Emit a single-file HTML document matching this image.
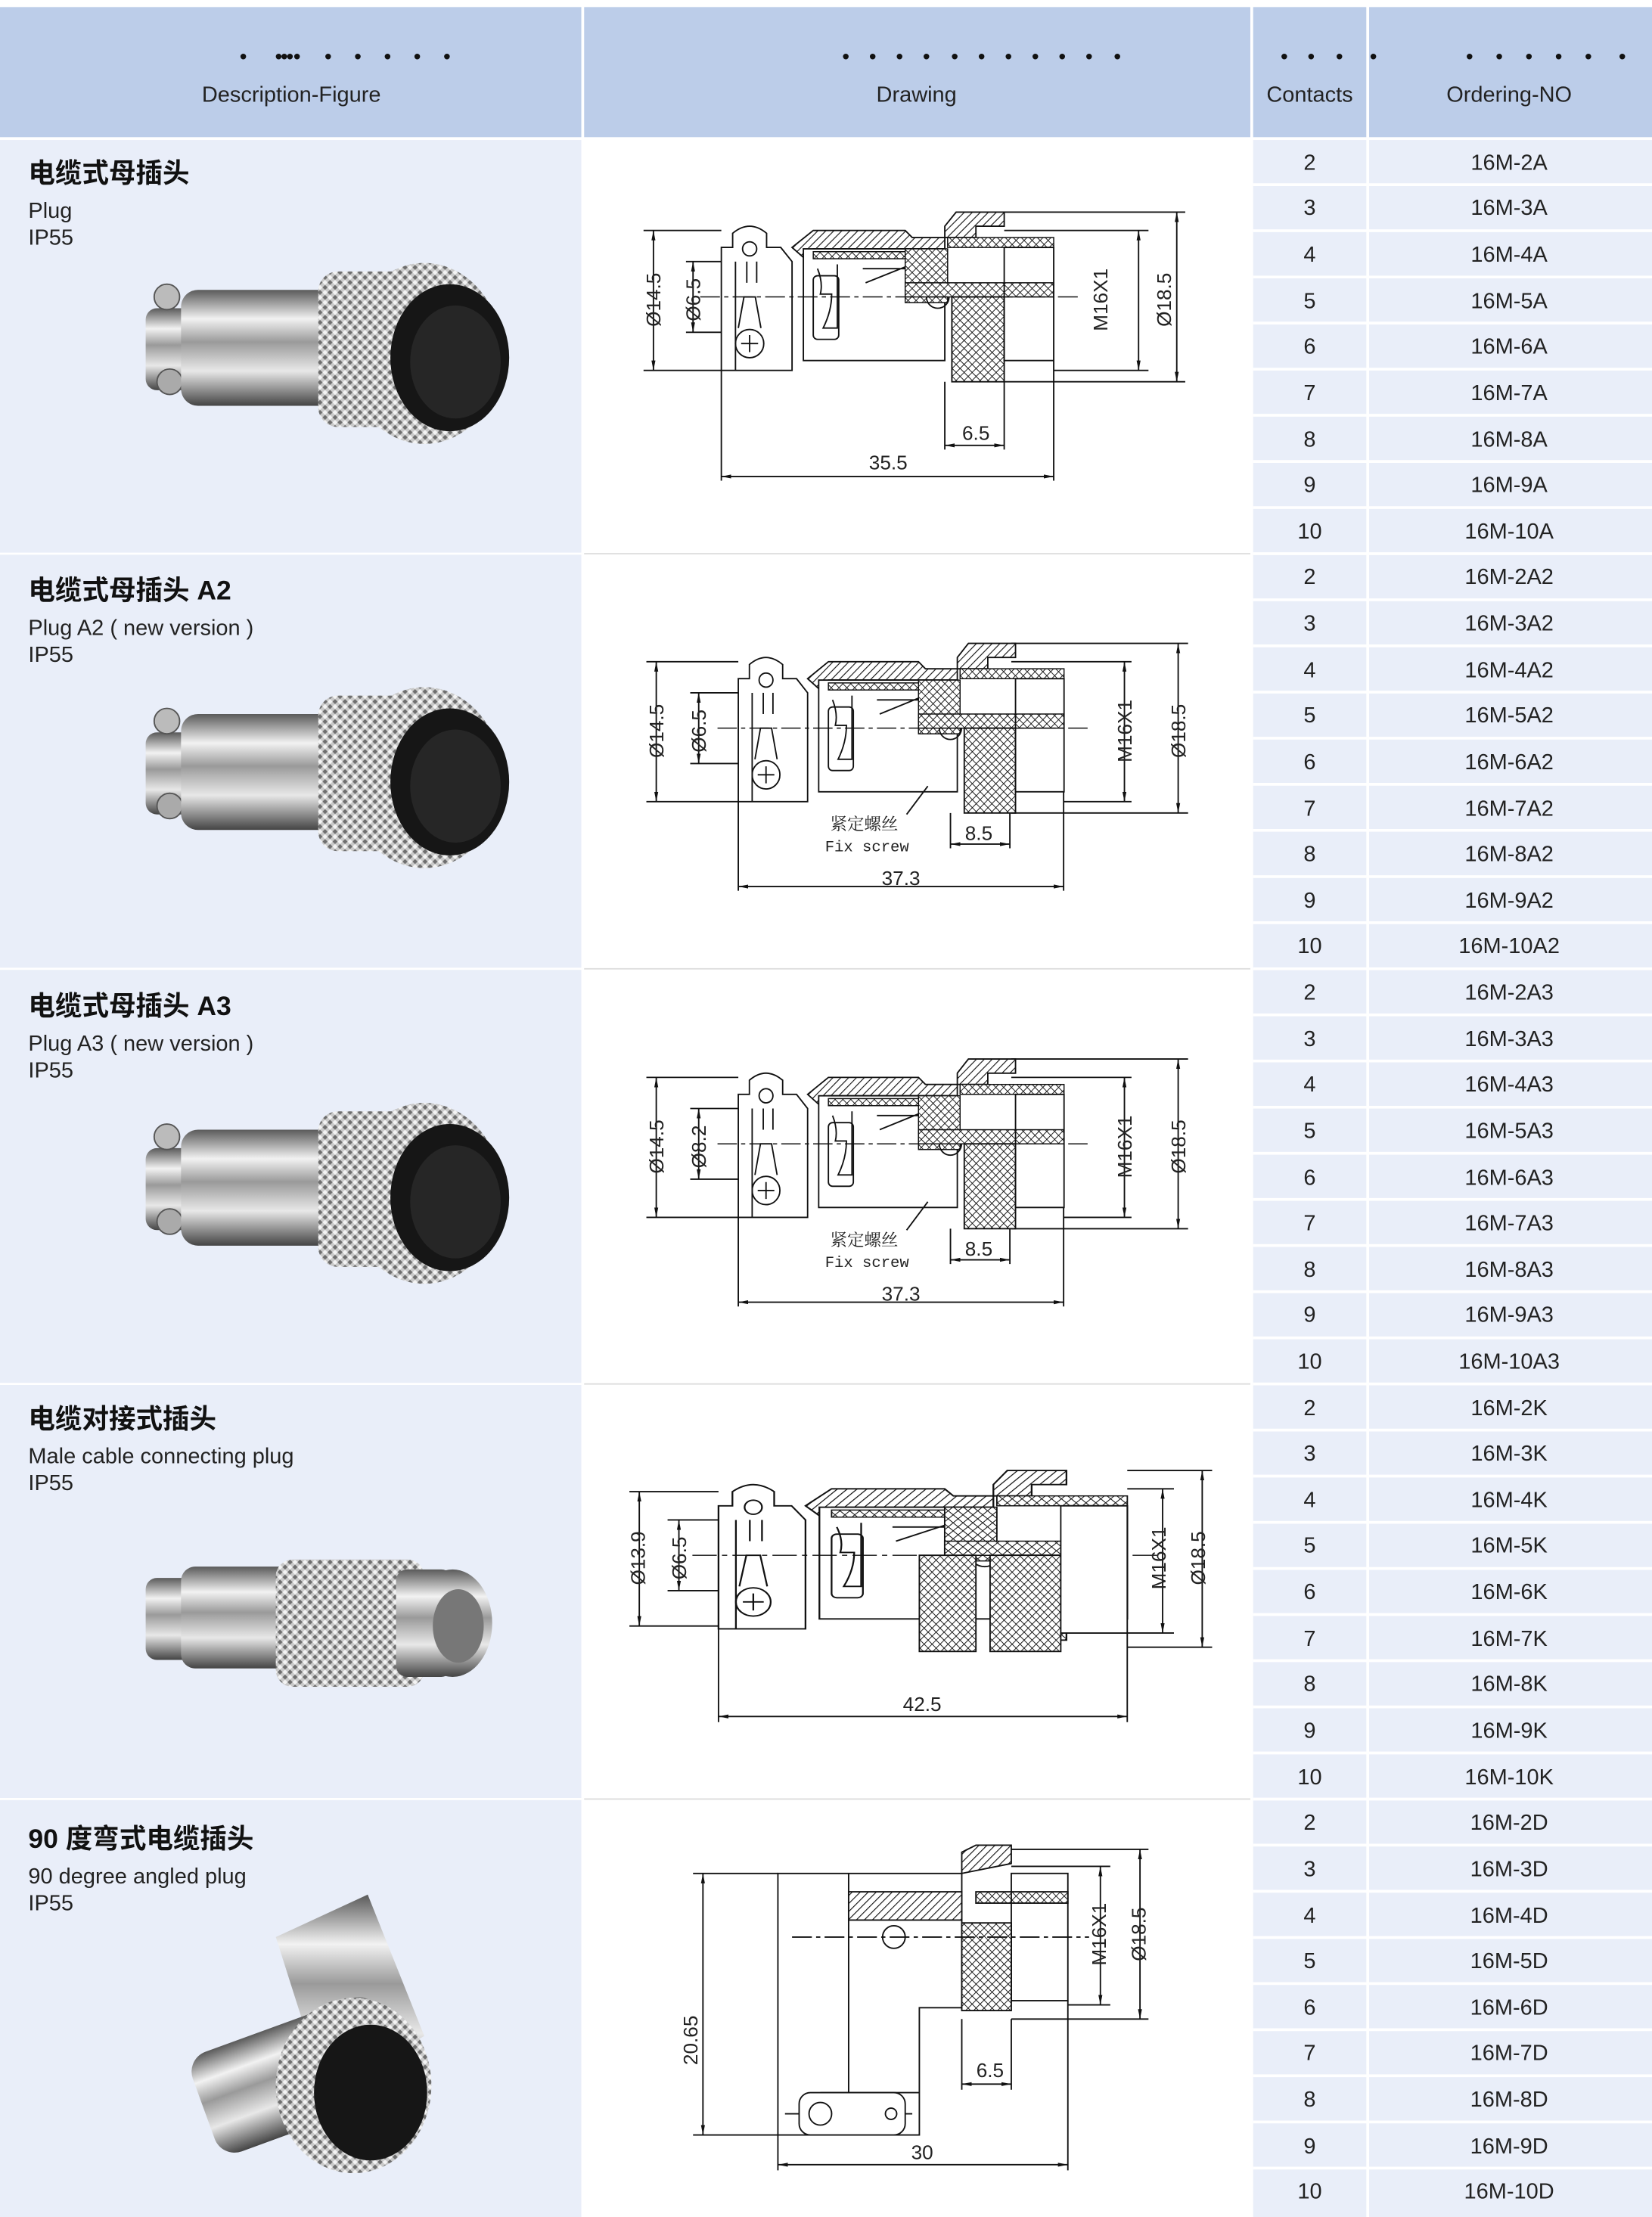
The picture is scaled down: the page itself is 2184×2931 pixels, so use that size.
<!DOCTYPE html>
<html><head><meta charset="utf-8"><style>
html,body{margin:0;padding:0;background:#fff}
svg{display:block}
text{font-family:"Liberation Sans","Noto Sans CJK SC",sans-serif}
.h{font-size:15.5px;fill:#222;text-anchor:middle}
.c{font-size:15.5px;fill:#222;text-anchor:middle}
.t{font-size:19px;font-weight:bold;fill:#111}
.d{font-size:15.5px;fill:#222}
.dim{font-size:14px;fill:#222;text-anchor:middle}
.ln{stroke:#111;stroke-width:1;fill:none}
.lw{stroke:#111;stroke-width:1;fill:#fff}
</style></head><body>
<svg width="2184" height="2931" viewBox="0 0 1168 1568" preserveAspectRatio="none" xmlns="http://www.w3.org/2000/svg">
<defs>
<pattern id="hat" width="4" height="4" patternUnits="userSpaceOnUse" patternTransform="rotate(45)"><rect width="4" height="4" fill="#fff"/><line x1="0" y1="0" x2="0" y2="4" stroke="#111" stroke-width="1.2"/></pattern>
<pattern id="knl" width="4" height="4" patternUnits="userSpaceOnUse" patternTransform="rotate(45)"><rect width="4" height="4" fill="#fff"/><line x1="0" y1="0" x2="0" y2="4" stroke="#111" stroke-width="1"/><line x1="0" y1="0" x2="4" y2="0" stroke="#111" stroke-width="1"/></pattern>
<pattern id="pk" width="5" height="5" patternUnits="userSpaceOnUse" patternTransform="rotate(45)"><rect width="5" height="5" fill="#c9c9c9"/><rect width="2.5" height="2.5" fill="#6e6e6e"/><rect x="2.5" y="2.5" width="2.5" height="2.5" fill="#f4f4f4"/></pattern>
<linearGradient id="sil" x1="0" y1="0" x2="0" y2="1"><stop offset="0" stop-color="#5a5a5a"/><stop offset=".25" stop-color="#f2f2f2"/><stop offset=".45" stop-color="#9a9a9a"/><stop offset=".7" stop-color="#e8e8e8"/><stop offset="1" stop-color="#444"/></linearGradient>
<marker id="ar" viewBox="0 0 10 10" refX="10" refY="5" markerWidth="7" markerHeight="7" orient="auto-start-reverse"><path d="M0,3 L10,5 L0,7z" fill="#111"/></marker>

<g id="plugA">
  <path class="lw" d="M510,175 L518,175 L518,165 Q530,155 542,165 L542,175 L552,175 L560,185 L560,262 L510,262z"/>
  <circle class="ln" cx="530" cy="176" r="5"/>
  <line class="ln" x1="520" y1="185" x2="520" y2="262"/><line class="ln" x1="528" y1="185" x2="528" y2="200"/><line class="ln" x1="535" y1="185" x2="535" y2="200"/>
  <circle class="ln" cx="530" cy="243" r="10"/><path class="ln" d="M524,243 h12 M530,237 v12"/>
  <path class="ln" d="M522,232 L526,210 L534,210 L538,232"/>
  <path d="M560,175 L575,163 L640,163 L645,168 L668,168 L668,176 L575,176 L568,182z" fill="url(#hat)" stroke="#111"/>
  <rect class="lw" x="568" y="176" width="100" height="79"/>
  <rect x="575" y="178" width="93" height="5" fill="url(#knl)" stroke="#111" stroke-width=".8"/>
  <path class="ln" d="M578,190 q4,10 2,18 l8,0 q0,12 -6,24 l10,0 v-45 M610,190 h30 M612,200 l30,-12"/>
  <rect class="ln" x="575" y="195" width="18" height="45" rx="3"/>
  <path d="M668,160 L676,150 L710,150 L710,160 L690,160 L690,168 L668,168z" fill="url(#hat)" stroke="#111"/>
  <rect x="640" y="176" width="30" height="38" fill="url(#knl)" stroke="#111" stroke-width=".8"/>
  <rect x="670" y="168" width="75" height="7" fill="url(#knl)" stroke="#111" stroke-width=".8"/>
  <rect x="640" y="200" width="105" height="10" fill="url(#knl)" stroke="#111" stroke-width=".8"/>
  <rect x="673" y="210" width="37" height="60" fill="url(#knl)" stroke="#111"/>
  <rect class="ln" x="710" y="175" width="35" height="80"/>
  <path class="ln" d="M655,210 a8,8 0 0,0 16,0"/>
  <line x1="495" y1="210" x2="765" y2="210" stroke="#111" stroke-width=".8" stroke-dasharray="14,3,3,3"/>
</g>
<g id="photo">
  <rect x="103" y="218" width="36" height="58" rx="8" fill="url(#sil)"/>
  <circle cx="118" cy="210" r="9" fill="#bbb" stroke="#555"/>
  <circle cx="120" cy="270" r="9" fill="#aaa" stroke="#555"/>
  <rect x="128" y="205" width="110" height="82" rx="12" fill="url(#sil)"/>
  <rect x="225" y="192" width="70" height="110" rx="14" fill="url(#pk)"/>
  <ellipse cx="300" cy="250" rx="55" ry="64" fill="url(#pk)"/>
  <ellipse cx="318" cy="253" rx="42" ry="52" fill="#161616"/>
  <ellipse cx="322" cy="256" rx="32" ry="40" fill="#262626"/>
</g>
</defs>

<rect width="1168" height="1568" fill="#fff"/>
<rect x="0" y="5" width="411" height="92" fill="#bccde9"/>
<rect x="413" y="5" width="471" height="92" fill="#bccde9"/>
<rect x="886" y="5" width="80" height="92" fill="#bccde9"/>
<rect x="968" y="5" width="200" height="92" fill="#bccde9"/>
<g fill="#111">
<circle cx="172" cy="40" r="2"/><circle cx="197" cy="40" r="2"/><circle cx="201" cy="40" r="2"/><circle cx="205" cy="40" r="2"/><circle cx="210" cy="40" r="2"/><circle cx="232" cy="40" r="2"/><circle cx="253" cy="40" r="2"/><circle cx="274" cy="40" r="2"/><circle cx="295" cy="40" r="2"/><circle cx="316" cy="40" r="2"/>
<circle cx="598" cy="40" r="2"/><circle cx="617" cy="40" r="2"/><circle cx="636" cy="40" r="2"/><circle cx="655" cy="40" r="2"/><circle cx="675" cy="40" r="2"/><circle cx="694" cy="40" r="2"/><circle cx="713" cy="40" r="2"/><circle cx="732" cy="40" r="2"/><circle cx="751" cy="40" r="2"/><circle cx="770" cy="40" r="2"/><circle cx="790" cy="40" r="2"/>
<circle cx="908" cy="40" r="2"/><circle cx="927" cy="40" r="2"/><circle cx="947" cy="40" r="2"/><circle cx="971" cy="40" r="2"/>
<circle cx="1039" cy="40" r="2"/><circle cx="1060" cy="40" r="2"/><circle cx="1081" cy="40" r="2"/><circle cx="1102" cy="40" r="2"/><circle cx="1123" cy="40" r="2"/><circle cx="1147" cy="40" r="2"/>
</g>
<text class="h" x="206" y="72">Description-Figure</text>
<text class="h" x="648" y="72">Drawing</text>
<text class="h" x="926" y="72">Contacts</text>
<text class="h" x="1067" y="72">Ordering-NO</text>

<rect x="0" y="99" width="411" height="1469" fill="#e9eef9"/>
<rect x="886" y="99" width="80" height="1469" fill="#e9eef9"/>
<rect x="968" y="99" width="200" height="1469" fill="#e9eef9"/>
<g stroke="#fff" stroke-width="1.5">
<line x1="0" y1="391.6" x2="411" y2="391.6"/><line x1="0" y1="685.2" x2="411" y2="685.2"/><line x1="0" y1="978.8" x2="411" y2="978.8"/><line x1="0" y1="1272.4" x2="411" y2="1272.4"/>
</g>
<g stroke="#ddd" stroke-width="1">
<line x1="413" y1="391.6" x2="884" y2="391.6"/><line x1="413" y1="685.2" x2="884" y2="685.2"/><line x1="413" y1="978.8" x2="884" y2="978.8"/><line x1="413" y1="1272.4" x2="884" y2="1272.4"/>
</g>
<g stroke="#fff" stroke-width="2">
<line x1="886" y1="130.6" x2="1168" y2="130.6"/><line x1="886" y1="163.2" x2="1168" y2="163.2"/><line x1="886" y1="195.9" x2="1168" y2="195.9"/><line x1="886" y1="228.5" x2="1168" y2="228.5"/><line x1="886" y1="261.1" x2="1168" y2="261.1"/><line x1="886" y1="293.7" x2="1168" y2="293.7"/><line x1="886" y1="326.4" x2="1168" y2="326.4"/><line x1="886" y1="359" x2="1168" y2="359"/><line x1="886" y1="391.6" x2="1168" y2="391.6"/>
<line x1="886" y1="424.2" x2="1168" y2="424.2"/><line x1="886" y1="456.8" x2="1168" y2="456.8"/><line x1="886" y1="489.5" x2="1168" y2="489.5"/><line x1="886" y1="522.1" x2="1168" y2="522.1"/><line x1="886" y1="554.7" x2="1168" y2="554.7"/><line x1="886" y1="587.3" x2="1168" y2="587.3"/><line x1="886" y1="620" x2="1168" y2="620"/><line x1="886" y1="652.6" x2="1168" y2="652.6"/><line x1="886" y1="685.2" x2="1168" y2="685.2"/>
<line x1="886" y1="717.8" x2="1168" y2="717.8"/><line x1="886" y1="750.4" x2="1168" y2="750.4"/><line x1="886" y1="783.1" x2="1168" y2="783.1"/><line x1="886" y1="815.7" x2="1168" y2="815.7"/><line x1="886" y1="848.3" x2="1168" y2="848.3"/><line x1="886" y1="880.9" x2="1168" y2="880.9"/><line x1="886" y1="913.6" x2="1168" y2="913.6"/><line x1="886" y1="946.2" x2="1168" y2="946.2"/><line x1="886" y1="978.8" x2="1168" y2="978.8"/>
<line x1="886" y1="1011.4" x2="1168" y2="1011.4"/><line x1="886" y1="1044" x2="1168" y2="1044"/><line x1="886" y1="1076.7" x2="1168" y2="1076.7"/><line x1="886" y1="1109.3" x2="1168" y2="1109.3"/><line x1="886" y1="1141.9" x2="1168" y2="1141.9"/><line x1="886" y1="1174.5" x2="1168" y2="1174.5"/><line x1="886" y1="1207.2" x2="1168" y2="1207.2"/><line x1="886" y1="1239.8" x2="1168" y2="1239.8"/><line x1="886" y1="1272.4" x2="1168" y2="1272.4"/>
<line x1="886" y1="1305" x2="1168" y2="1305"/><line x1="886" y1="1337.6" x2="1168" y2="1337.6"/><line x1="886" y1="1370.3" x2="1168" y2="1370.3"/><line x1="886" y1="1402.9" x2="1168" y2="1402.9"/><line x1="886" y1="1435.5" x2="1168" y2="1435.5"/><line x1="886" y1="1468.1" x2="1168" y2="1468.1"/><line x1="886" y1="1500.8" x2="1168" y2="1500.8"/><line x1="886" y1="1533.4" x2="1168" y2="1533.4"/>
</g>

<g class="c">
<text class="c" x="926" y="120">2</text><text class="c" x="1067" y="120">16M-2A</text>
<text class="c" x="926" y="152">3</text><text class="c" x="1067" y="152">16M-3A</text>
<text class="c" x="926" y="185">4</text><text class="c" x="1067" y="185">16M-4A</text>
<text class="c" x="926" y="218">5</text><text class="c" x="1067" y="218">16M-5A</text>
<text class="c" x="926" y="250">6</text><text class="c" x="1067" y="250">16M-6A</text>
<text class="c" x="926" y="283">7</text><text class="c" x="1067" y="283">16M-7A</text>
<text class="c" x="926" y="316">8</text><text class="c" x="1067" y="316">16M-8A</text>
<text class="c" x="926" y="348">9</text><text class="c" x="1067" y="348">16M-9A</text>
<text class="c" x="926" y="381">10</text><text class="c" x="1067" y="381">16M-10A</text>
<text class="c" x="926" y="413">2</text><text class="c" x="1067" y="413">16M-2A2</text>
<text class="c" x="926" y="446">3</text><text class="c" x="1067" y="446">16M-3A2</text>
<text class="c" x="926" y="479">4</text><text class="c" x="1067" y="479">16M-4A2</text>
<text class="c" x="926" y="511">5</text><text class="c" x="1067" y="511">16M-5A2</text>
<text class="c" x="926" y="544">6</text><text class="c" x="1067" y="544">16M-6A2</text>
<text class="c" x="926" y="577">7</text><text class="c" x="1067" y="577">16M-7A2</text>
<text class="c" x="926" y="609">8</text><text class="c" x="1067" y="609">16M-8A2</text>
<text class="c" x="926" y="642">9</text><text class="c" x="1067" y="642">16M-9A2</text>
<text class="c" x="926" y="674">10</text><text class="c" x="1067" y="674">16M-10A2</text>
<text class="c" x="926" y="707">2</text><text class="c" x="1067" y="707">16M-2A3</text>
<text class="c" x="926" y="740">3</text><text class="c" x="1067" y="740">16M-3A3</text>
<text class="c" x="926" y="772">4</text><text class="c" x="1067" y="772">16M-4A3</text>
<text class="c" x="926" y="805">5</text><text class="c" x="1067" y="805">16M-5A3</text>
<text class="c" x="926" y="838">6</text><text class="c" x="1067" y="838">16M-6A3</text>
<text class="c" x="926" y="870">7</text><text class="c" x="1067" y="870">16M-7A3</text>
<text class="c" x="926" y="903">8</text><text class="c" x="1067" y="903">16M-8A3</text>
<text class="c" x="926" y="935">9</text><text class="c" x="1067" y="935">16M-9A3</text>
<text class="c" x="926" y="968">10</text><text class="c" x="1067" y="968">16M-10A3</text>
<text class="c" x="926" y="1001">2</text><text class="c" x="1067" y="1001">16M-2K</text>
<text class="c" x="926" y="1033">3</text><text class="c" x="1067" y="1033">16M-3K</text>
<text class="c" x="926" y="1066">4</text><text class="c" x="1067" y="1066">16M-4K</text>
<text class="c" x="926" y="1098">5</text><text class="c" x="1067" y="1098">16M-5K</text>
<text class="c" x="926" y="1131">6</text><text class="c" x="1067" y="1131">16M-6K</text>
<text class="c" x="926" y="1164">7</text><text class="c" x="1067" y="1164">16M-7K</text>
<text class="c" x="926" y="1196">8</text><text class="c" x="1067" y="1196">16M-8K</text>
<text class="c" x="926" y="1229">9</text><text class="c" x="1067" y="1229">16M-9K</text>
<text class="c" x="926" y="1262">10</text><text class="c" x="1067" y="1262">16M-10K</text>
<text class="c" x="926" y="1294">2</text><text class="c" x="1067" y="1294">16M-2D</text>
<text class="c" x="926" y="1327">3</text><text class="c" x="1067" y="1327">16M-3D</text>
<text class="c" x="926" y="1360">4</text><text class="c" x="1067" y="1360">16M-4D</text>
<text class="c" x="926" y="1392">5</text><text class="c" x="1067" y="1392">16M-5D</text>
<text class="c" x="926" y="1425">6</text><text class="c" x="1067" y="1425">16M-6D</text>
<text class="c" x="926" y="1457">7</text><text class="c" x="1067" y="1457">16M-7D</text>
<text class="c" x="926" y="1490">8</text><text class="c" x="1067" y="1490">16M-8D</text>
<text class="c" x="926" y="1523">9</text><text class="c" x="1067" y="1523">16M-9D</text>
<text class="c" x="926" y="1555">10</text><text class="c" x="1067" y="1555">16M-10D</text>
</g>

<text class="t" x="20" y="129">电缆式母插头</text>
<text class="d" x="20" y="154">Plug</text><text class="d" x="20" y="173">IP55</text>
<text class="t" x="20" y="424">电缆式母插头 A2</text>
<text class="d" x="20" y="449">Plug  A2 ( new version )</text><text class="d" x="20" y="468">IP55</text>
<text class="t" x="20" y="718">电缆式母插头 A3</text>
<text class="d" x="20" y="743">Plug  A3 ( new version )</text><text class="d" x="20" y="762">IP55</text>
<text class="t" x="20" y="1010">电缆对接式插头</text>
<text class="d" x="20" y="1035">Male cable connecting plug</text><text class="d" x="20" y="1054">IP55</text>
<text class="t" x="20" y="1307">90 度弯式电缆插头</text>
<text class="d" x="20" y="1332">90 degree angled plug</text><text class="d" x="20" y="1351">IP55</text>

<use href="#photo"/>
<use href="#photo" transform="translate(0,300)"/>
<use href="#photo" transform="translate(0,594)"/>
<g transform="translate(0,898)">
  <rect x="103" y="218" width="36" height="58" rx="8" fill="url(#sil)"/>
  <rect x="128" y="210" width="80" height="72" rx="10" fill="url(#sil)"/>
  <rect x="195" y="205" width="105" height="90" rx="12" fill="url(#pk)"/>
  <rect x="280" y="212" width="40" height="76" rx="8" fill="url(#sil)"/>
  <ellipse cx="320" cy="250" rx="28" ry="38" fill="url(#sil)"/>
  <ellipse cx="324" cy="252" rx="18" ry="26" fill="#777"/>
</g>
<g>
  <path d="M195,1370 L260,1340 L300,1440 L230,1480z" fill="url(#sil)"/>
  <rect x="140" y="1430" width="140" height="75" rx="15" fill="url(#sil)" transform="rotate(-20 210 1468)"/>
  <ellipse cx="250" cy="1475" rx="55" ry="62" fill="url(#pk)"/>
  <ellipse cx="262" cy="1480" rx="40" ry="48" fill="#161616"/>
</g>

<use href="#plugA"/>
<g class="ln">
<path d="M455,163 H510 M455,262 H510 M485,185 H510 M485,235 H510"/>
<line x1="462" y1="163" x2="462" y2="262" marker-start="url(#ar)" marker-end="url(#ar)"/>
<line x1="490" y1="185" x2="490" y2="235" marker-start="url(#ar)" marker-end="url(#ar)"/>
<path d="M710,163 H812 M745,262 H812 M710,150 H838 M710,270 H838"/>
<line x1="805" y1="163" x2="805" y2="262" marker-start="url(#ar)" marker-end="url(#ar)"/>
<line x1="832" y1="150" x2="832" y2="270" marker-start="url(#ar)" marker-end="url(#ar)"/>
<path d="M668,270 V318 M710,270 V318 M510,262 V340 M745,255 V340"/>
<line x1="668" y1="315" x2="710" y2="315" marker-start="url(#ar)" marker-end="url(#ar)"/>
<line x1="510" y1="337" x2="745" y2="337" marker-start="url(#ar)" marker-end="url(#ar)"/>
</g>
<text class="dim" transform="translate(467,212) rotate(-90)">Ø14.5</text>
<text class="dim" transform="translate(495,212) rotate(-90)">Ø6.5</text>
<text class="dim" transform="translate(783,212) rotate(-90)">M16X1</text>
<text class="dim" transform="translate(828,212) rotate(-90)">Ø18.5</text>
<text class="dim" x="690" y="311">6.5</text>
<text class="dim" x="628" y="332">35.5</text>

<g id="d2">
<use href="#plugA" transform="translate(522,305) scale(0.98,1) translate(-510,0)"/>
<g class="ln">
<path d="M457,468 H522 M457,567 H522 M488,490 H522 M488,540 H522"/>
<line x1="464" y1="468" x2="464" y2="567" marker-start="url(#ar)" marker-end="url(#ar)"/>
<path d="M715,468 H800 M752,567 H800 M715,455 H840 M715,575 H840"/>
<line x1="795" y1="468" x2="795" y2="567" marker-start="url(#ar)" marker-end="url(#ar)"/>
<line x1="833" y1="455" x2="833" y2="575" marker-start="url(#ar)" marker-end="url(#ar)"/>
<path d="M672,575 V600 M714,575 V600 M522,567 V630 M752,560 V630 M641,576 L656,556"/>
<line x1="672" y1="597" x2="714" y2="597" marker-start="url(#ar)" marker-end="url(#ar)"/>
<line x1="522" y1="627" x2="752" y2="627" marker-start="url(#ar)" marker-end="url(#ar)"/>
</g>
<text class="dim" transform="translate(469,517) rotate(-90)">Ø14.5</text>
<text class="dim" transform="translate(800,517) rotate(-90)">M16X1</text>
<text class="dim" transform="translate(838,517) rotate(-90)">Ø18.5</text>
<text class="dim" x="692" y="594">8.5</text>
<text class="dim" x="637" y="626">37.3</text>
<text x="611" y="587" style="font-size:12px;fill:#222;text-anchor:middle;font-family:'Liberation Serif','Noto Serif CJK SC',serif">紧定螺丝</text>
<text x="613" y="602" style="font-size:11px;fill:#222;text-anchor:middle;font-family:'Liberation Mono',monospace">Fix screw</text>
</g>
<line class="ln" x1="494" y1="490" x2="494" y2="540" marker-start="url(#ar)" marker-end="url(#ar)"/>
<text class="dim" transform="translate(499,517) rotate(-90)">Ø6.5</text>
<g transform="translate(0,294)">
<use href="#d2"/>
</g>
<line class="ln" x1="494" y1="784" x2="494" y2="834" marker-start="url(#ar)" marker-end="url(#ar)"/>
<text class="dim" transform="translate(499,811) rotate(-90)">Ø8.2</text>

<use href="#plugA" transform="translate(508,890) scale(1.23,1) translate(-510,0)"/>
<rect x="650" y="1100" width="40" height="68" fill="url(#knl)" stroke="#111"/>
<rect x="700" y="1100" width="50" height="68" fill="url(#knl)" stroke="#111"/>
<rect class="lw" x="750" y="1065" width="47" height="90"/>
<g class="ln">
<path d="M445,1055 H508 M445,1150 H508 M472,1075 H508 M472,1125 H508"/>
<line x1="452" y1="1055" x2="452" y2="1150" marker-start="url(#ar)" marker-end="url(#ar)"/>
<line x1="480" y1="1075" x2="480" y2="1125" marker-start="url(#ar)" marker-end="url(#ar)"/>
<path d="M797,1053 H830 M797,1155 H830 M797,1040 H857 M797,1165 H857"/>
<line x1="822" y1="1053" x2="822" y2="1155" marker-start="url(#ar)" marker-end="url(#ar)"/>
<line x1="850" y1="1040" x2="850" y2="1165" marker-start="url(#ar)" marker-end="url(#ar)"/>
<path d="M508,1150 V1218 M797,1155 V1218"/>
<line x1="508" y1="1214" x2="797" y2="1214" marker-start="url(#ar)" marker-end="url(#ar)"/>
</g>
<text class="dim" transform="translate(456,1102) rotate(-90)">Ø13.9</text>
<text class="dim" transform="translate(485,1102) rotate(-90)">Ø6.5</text>
<text class="dim" transform="translate(824,1102) rotate(-90)">M16X1</text>
<text class="dim" transform="translate(852,1102) rotate(-90)">Ø18.5</text>
<text class="dim" x="652" y="1210">42.5</text>

<g class="ln">
<path class="lw" d="M550,1325 H680 V1420 H650 V1510 H550z"/>
<path d="M600,1325 V1510 M555,1495 H645 M580,1480 H650"/>
<rect class="lw" x="565" y="1480" width="75" height="30" rx="8"/>
<circle cx="580" cy="1495" r="8"/><circle cx="630" cy="1495" r="4"/>
<path d="M680,1310 L690,1305 L715,1305 L715,1318 L680,1325z" fill="url(#hat)"/>
<rect x="680" y="1360" width="35" height="62" fill="url(#knl)"/>
<rect x="690" y="1338" width="65" height="8" fill="url(#knl)"/>
<rect x="600" y="1338" width="80" height="20" fill="url(#hat)"/>
<rect x="715" y="1325" width="40" height="90"/>
<circle cx="632" cy="1370" r="8"/>
<line x1="560" y1="1370" x2="770" y2="1370" stroke-dasharray="14,3,3,3"/>
<path d="M715,1320 H785 M755,1418 H785 M715,1308 H812 M715,1428 H812"/>
<line x1="778" y1="1320" x2="778" y2="1418" marker-start="url(#ar)" marker-end="url(#ar)"/>
<line x1="806" y1="1308" x2="806" y2="1428" marker-start="url(#ar)" marker-end="url(#ar)"/>
<path d="M680,1428 V1478 M715,1428 V1478 M490,1325 H550 M490,1510 H550 M550,1510 V1535 M755,1415 V1535"/>
<line x1="680" y1="1474" x2="715" y2="1474" marker-start="url(#ar)" marker-end="url(#ar)"/>
<line x1="497" y1="1325" x2="497" y2="1510" marker-start="url(#ar)" marker-end="url(#ar)"/>
<line x1="550" y1="1531" x2="755" y2="1531" marker-start="url(#ar)" marker-end="url(#ar)"/>
</g>
<text class="dim" transform="translate(493,1443) rotate(-90)">20.65</text>
<text class="dim" transform="translate(782,1368) rotate(-90)">M16X1</text>
<text class="dim" transform="translate(810,1368) rotate(-90)">Ø18.5</text>
<text class="dim" x="700" y="1469">6.5</text>
<text class="dim" x="652" y="1527">30</text>
</svg>
</body></html>
